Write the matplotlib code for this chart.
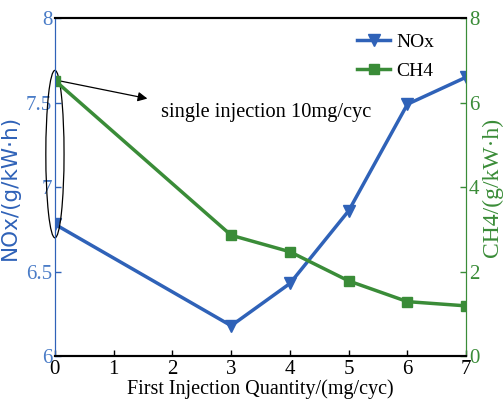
import matplotlib.pyplot as plt
from matplotlib.patches import Ellipse

x_qty = [0, 3, 4, 5, 6, 7]
nox = [6.78, 6.18, 6.43, 6.86, 7.49, 7.65]
ch4 = [6.52, 2.86, 2.47, 1.78, 1.29, 1.19]

BLUE = "#2f62b8"
BLUE_TXT = "#4a7cc7"
GREEN = "#3a8c38"
SERIF = "Liberation Serif"

fig = plt.figure(figsize=(5.04, 4.08), dpi=100)
ax = fig.add_axes([0.109, 0.127, 0.816, 0.829])
ax2 = ax.twinx()

l1, = ax.plot(x_qty, nox, color=BLUE, lw=2.5, marker="v", ms=8, label="NOx")
l2, = ax2.plot(x_qty, ch4, color=GREEN, lw=2.5, marker="s", ms=7, label="CH4")

ax.set_xlim(0, 7)
ax.set_ylim(6, 8)
ax2.set_ylim(0, 8)
ax.set_xticks(range(8))
ax.set_yticks([6, 6.5, 7, 7.5, 8])
ax.set_yticklabels(["6", "6.5", "7", "7.5", "8"])
ax2.set_yticks([0, 2, 4, 6, 8])

for a in (ax, ax2):
    a.tick_params(direction="in", length=4, width=1)
    for lab in a.get_xticklabels() + a.get_yticklabels():
        lab.set_fontfamily(SERIF)
        lab.set_fontsize(15)
ax.tick_params(axis="y", colors=BLUE, labelcolor=BLUE_TXT, pad=2)
ax2.tick_params(axis="y", colors=GREEN, labelcolor=GREEN, pad=2)
ax.tick_params(axis="x", colors="black", pad=3)

ax.spines["left"].set_color(BLUE)
ax2.spines["left"].set_color(BLUE)
ax2.spines["right"].set_color(GREEN)
ax.spines["right"].set_color(GREEN)
for s in ("top", "bottom"):
    ax.spines[s].set_linewidth(1.5)
    ax2.spines[s].set_linewidth(1.5)

ax.set_xlabel("First Injection Quantity/(mg/cyc)", fontfamily=SERIF, fontsize=14.5, labelpad=0)
ax.set_ylabel("NOx/(g/kW·h)", color=BLUE, fontfamily="DejaVu Sans", fontsize=15.5, labelpad=4)
ax2.set_ylabel("CH4/(g/kW·h)", color=GREEN, fontfamily=SERIF, fontsize=17, labelpad=2)

ax2.legend(handles=[l1, l2], loc="upper right", bbox_to_anchor=(0.955, 0.995),
           frameon=False, prop={"family": SERIF, "size": 14}, handlelength=1.7,
           borderaxespad=0.3, handletextpad=0.3, labelspacing=0.6)

# annotation for single injection point
ax.add_patch(Ellipse((0, 7.195), 0.31, 0.99, fill=False, ec="black", lw=0.9,
                     clip_on=False, zorder=5))
ax.annotate("", xy=(1.62, 7.52), xytext=(0.05, 7.63),
            arrowprops=dict(arrowstyle="-|>", color="black", lw=0.9, mutation_scale=14))
ax.text(1.8, 7.44, "single injection 10mg/cyc", fontfamily=SERIF, fontsize=14.7,
        va="center", ha="left")

fig.savefig("out.png", dpi=100)
